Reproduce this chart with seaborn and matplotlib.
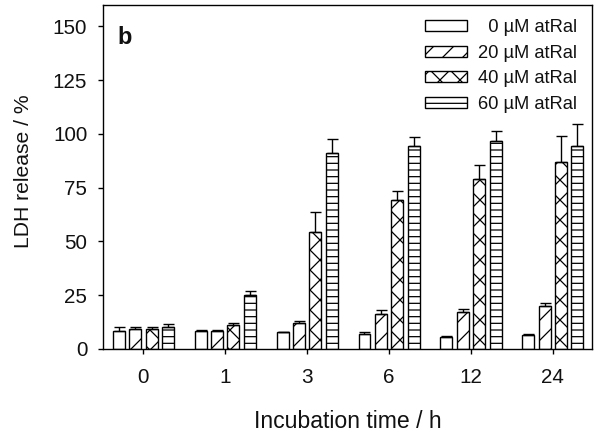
import numpy as np
import pandas as pd
import matplotlib
matplotlib.use('Agg')
import matplotlib.pyplot as plt
import seaborn as sns

# data
times = ['0', '1', '3', '6', '12', '24']
doses = ['  0 µM atRal', '20 µM atRal', '40 µM atRal', '60 µM atRal']
ldh_0 = [8.5, 8.2, 7.8, 6.8, 5.7, 6.6]
ldh_20 = [9.1, 8.5, 11.9, 16.3, 17.0, 20.0]
ldh_40 = [9.3, 11.0, 54.3, 69.2, 78.8, 86.9]
ldh_60 = [10.0, 25.0, 91.2, 94.4, 96.6, 94.4]
err_0 = [1.5, 0.7, 0.3, 1.1, 0.3, 0.5]
err_20 = [1.3, 0.5, 1.0, 1.8, 1.7, 1.2]
err_40 = [1.1, 1.2, 9.2, 4.3, 6.8, 12.0]
err_60 = [1.6, 1.8, 6.5, 3.9, 4.8, 10.4]

means = [ldh_0, ldh_20, ldh_40, ldh_60]
errs = [err_0, err_20, err_40, err_60]
hatches = ['', '//', 'xx', '---']

rows = []
for d, vals in zip(doses, means):
    for t, v in zip(times, vals):
        rows.append({'time': t, 'dose': d, 'ldh': v})
df = pd.DataFrame(rows)

sns.set_style('ticks')
plt.rcParams['font.family'] = ['Liberation Sans', 'DejaVu Sans']
plt.rcParams['hatch.linewidth'] = 0.75
plt.rcParams['text.color'] = '#111111'
plt.rcParams['axes.labelcolor'] = '#111111'
plt.rcParams['xtick.labelcolor'] = '#111111'
plt.rcParams['ytick.labelcolor'] = '#111111'

# dpi 120 so the hatch spacing comes out close to the original
fig = plt.figure(figsize=(5, 3.6167), dpi=120)
ax = fig.add_axes([0.172, 0.196, 0.815, 0.793])

sns.barplot(data=df, x='time', y='ldh', hue='dose', order=times, hue_order=doses,
            width=0.8, gap=0.27, errorbar=None, ax=ax, legend=True)

for cont, h, e in zip(ax.containers, hatches, errs):
    xs, ys = [], []
    for bar in cont:
        bar.set_facecolor('white')
        bar.set_edgecolor('black')
        bar.set_linewidth(0.83)
        bar.set_hatch(h)
        xs.append(bar.get_x() + bar.get_width() / 2)
        ys.append(bar.get_height())
    ax.errorbar(xs, ys, yerr=[np.zeros(len(e)), e], fmt='none', ecolor='black',
                elinewidth=0.83, capsize=3.3, capthick=0.83)

ax.set_ylim(0, 160)
ax.set_xlim(-0.49, 5.48)
ax.set_yticks([0, 25, 50, 75, 100, 125, 150])
ax.set_xlabel('Incubation time / h', fontsize=13.8, labelpad=13.6)
ax.set_ylabel('LDH release / %', fontsize=12.7)
ax.yaxis.set_label_coords(-0.144, 0.516)
ax.tick_params(axis='both', labelsize=12.4, direction='out', length=3, width=0.83,
               color='black')
ax.tick_params(axis='x', pad=8.5)
ax.tick_params(axis='y', pad=6.6)
for s in ax.spines.values():
    s.set_linewidth(0.83)
    s.set_color('black')

ax.text(0.029, 0.904, 'b', transform=ax.transAxes, fontsize=14.2, fontweight='bold',
        va='center', ha='left')

leg = ax.legend(loc='upper right', frameon=False, fontsize=11, handlelength=2.3,
                handleheight=0.55, handletextpad=0.6, labelspacing=0.46,
                borderaxespad=0.4, title=None)
for p, h in zip(leg.get_patches(), hatches):
    p.set_facecolor('white')
    p.set_edgecolor('black')
    p.set_linewidth(0.83)
    p.set_hatch(h)

fig.savefig('out.png', dpi=120)
